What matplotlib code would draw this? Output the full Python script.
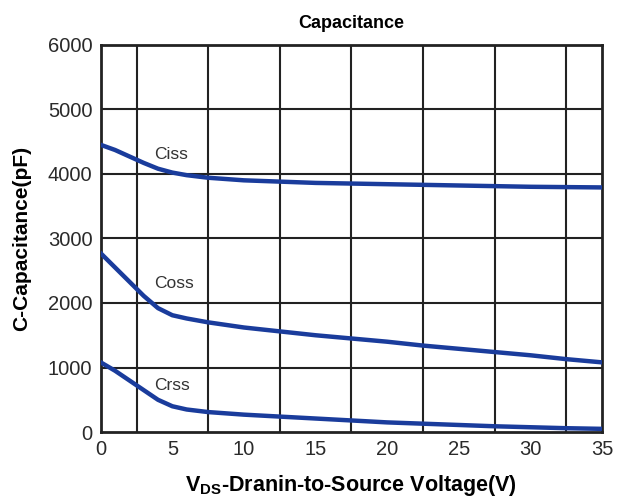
import matplotlib.pyplot as plt

# ---- data ----
vds = [0, 1, 2, 3, 4, 5, 6, 7.5, 10, 12.5, 15, 17.5, 20, 22.5, 25, 27.5, 30, 32.5, 35]
ciss = [4450, 4370, 4270, 4170, 4080, 4020, 3980, 3940, 3900, 3880, 3860, 3850,
        3840, 3830, 3820, 3810, 3800, 3795, 3790]
coss = [2770, 2550, 2330, 2110, 1920, 1810, 1760, 1700, 1620, 1560, 1500, 1450,
        1400, 1340, 1290, 1240, 1190, 1130, 1080]
crss = [1080, 950, 800, 650, 500, 400, 350, 310, 270, 240, 210, 180,
        150, 130, 110, 90, 75, 60, 50]

xticks = [0, 5, 10, 15, 20, 25, 30, 35]
yticks = [0, 1000, 2000, 3000, 4000, 5000, 6000]
xgrid = [2.5, 7.5, 12.5, 17.5, 22.5, 27.5, 32.5]

plt.rcParams['font.family'] = ['Liberation Sans', 'DejaVu Sans']
plt.rcParams['mathtext.fontset'] = 'custom'
plt.rcParams['mathtext.rm'] = 'Liberation Sans:bold'

fig = plt.figure(figsize=(6.18, 5.03), dpi=100)
ax = fig.add_axes([0.163, 0.141, 0.811, 0.770])

col = '#1a3c9c'
ax.plot(vds, ciss, color=col, lw=3.2, zorder=3, solid_joinstyle='round')
ax.plot(vds, coss, color=col, lw=3.2, zorder=3, solid_joinstyle='round')
ax.plot(vds, crss, color=col, lw=3.2, zorder=3, solid_joinstyle='round')

ax.text(3.7, 4300, 'Ciss', fontsize=12.5, color='#333333', va='center')
ax.text(3.7, 2300, 'Coss', fontsize=12.5, color='#333333', va='center')
ax.text(3.7, 720, 'Crss', fontsize=12.5, color='#333333', va='center')

# grid: horizontal at ticks, vertical offset by 2.5
for g in xgrid:
    ax.axvline(g, color='#222222', lw=1.5, zorder=1)
for g in yticks[1:-1]:
    ax.axhline(g, color='#222222', lw=1.5, zorder=1)

ax.set_xlim(0, 35)
ax.set_ylim(0, 6000)
ax.set_xticks(xticks)
ax.set_yticks(yticks)
ax.tick_params(length=0, labelsize=14.5, pad=6, colors='#2a2a2a')
for s in ax.spines.values():
    s.set_linewidth(2)
    s.set_color('#222222')

ax.set_title('Capacitance', fontsize=13, fontweight='bold', pad=12)
ax.set_xlabel(r'V$_{\mathrm{DS}}$-Dranin-to-Source Voltage(V)', fontsize=15.5,
              fontweight='bold', labelpad=10)
ax.set_ylabel('C-Capacitance(pF)', fontsize=15, fontweight='bold', labelpad=12)

fig.savefig('out.png', dpi=100)
